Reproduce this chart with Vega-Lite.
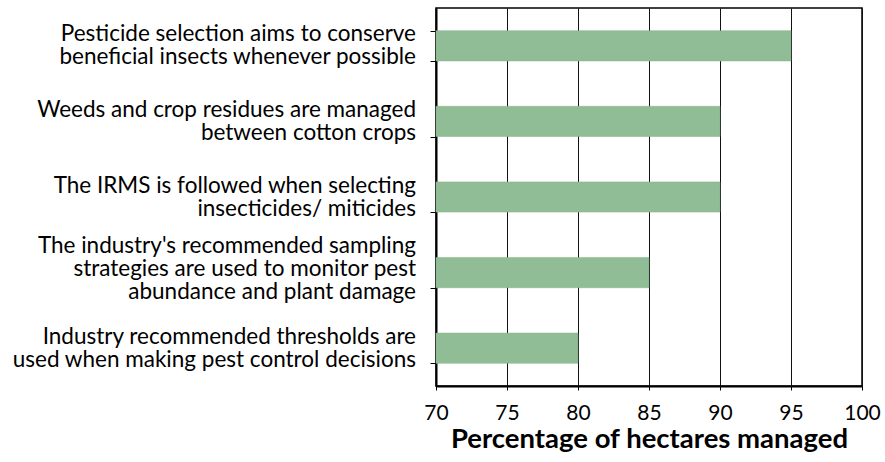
{
  "$schema": "https://vega.github.io/schema/vega-lite/v6.json",
  "autosize": "none",
  "width": 426,
  "height": 378,
  "padding": {"left": 436, "top": 8, "right": 23, "bottom": 76},
  "background": "white",
  "config": {
    "view": {"stroke": "black", "strokeWidth": 1.5},
    "font": "Lato"
  },
  "data": {
    "values": [
      {"practice": "Pesticide selection aims to conserve|beneficial insects whenever possible", "pct": 95},
      {"practice": "Weeds and crop residues are managed|between cotton crops", "pct": 90},
      {"practice": "The IRMS is followed when selecting|insecticides/ miticides", "pct": 90},
      {"practice": "The industry's recommended sampling|strategies are used to monitor pest|abundance and plant damage", "pct": 85},
      {"practice": "Industry recommended thresholds are|used when making pest control decisions", "pct": 80}
    ]
  },
  "encoding": {
    "y": {
      "field": "practice",
      "type": "nominal",
      "sort": null,
      "scale": {"paddingInner": 0.6, "paddingOuter": 0.3},
      "axis": {
        "title": null,
        "labels": false,
        "tickBand": "extent",
        "tickColor": "black",
        "tickSize": 6,
        "tickWidth": 1,
        "domainColor": "black",
        "domainWidth": 2,
        "grid": false
      }
    }
  },
  "layer": [
    {
      "mark": {"type": "bar", "color": "#90bd96", "stroke": "#86b38c", "strokeWidth": 0.5},
      "encoding": {
        "x": {
          "field": "pct",
          "type": "quantitative",
          "scale": {"domain": [70, 100], "zero": false, "nice": false},
          "axis": {
            "title": "Percentage of hectares managed",
            "titleFont": "Lato",
            "titleFontSize": 27.5,
            "titleFontWeight": "bold",
            "titleColor": "black",
            "titlePadding": 2,
            "values": [70, 75, 80, 85, 90, 95, 100],
            "labelFont": "Lato",
            "labelFontSize": 21,
            "labelColor": "black",
            "labelPadding": 12,
            "labelFlush": false,
            "tickColor": "black",
            "tickSize": 4,
            "domainColor": "black",
            "domainWidth": 2,
            "grid": true,
            "gridColor": "#111111",
            "gridWidth": 1,
            "gridOpacity": 1
          }
        },
        "x2": {"datum": 70}
      }
    },
    {
      "transform": [{"filter": "indexof(datum.practice, 'sampling') < 0"}],
      "mark": {"type": "text", "align": "right", "baseline": "middle", "dx": -20, "dy": -11.5, "lineBreak": "|", "lineHeight": 23, "fontSize": 22.5, "font": "Lato", "color": "black"},
      "encoding": {
        "x": {"datum": 70},
        "text": {"field": "practice"}
      }
    },
    {
      "transform": [{"filter": "indexof(datum.practice, 'sampling') >= 0"}],
      "mark": {"type": "text", "align": "right", "baseline": "middle", "dx": -20, "dy": -27, "lineBreak": "|", "lineHeight": 23, "fontSize": 22.5, "font": "Lato", "color": "black"},
      "encoding": {
        "x": {"datum": 70},
        "text": {"field": "practice"}
      }
    }
  ]
}
